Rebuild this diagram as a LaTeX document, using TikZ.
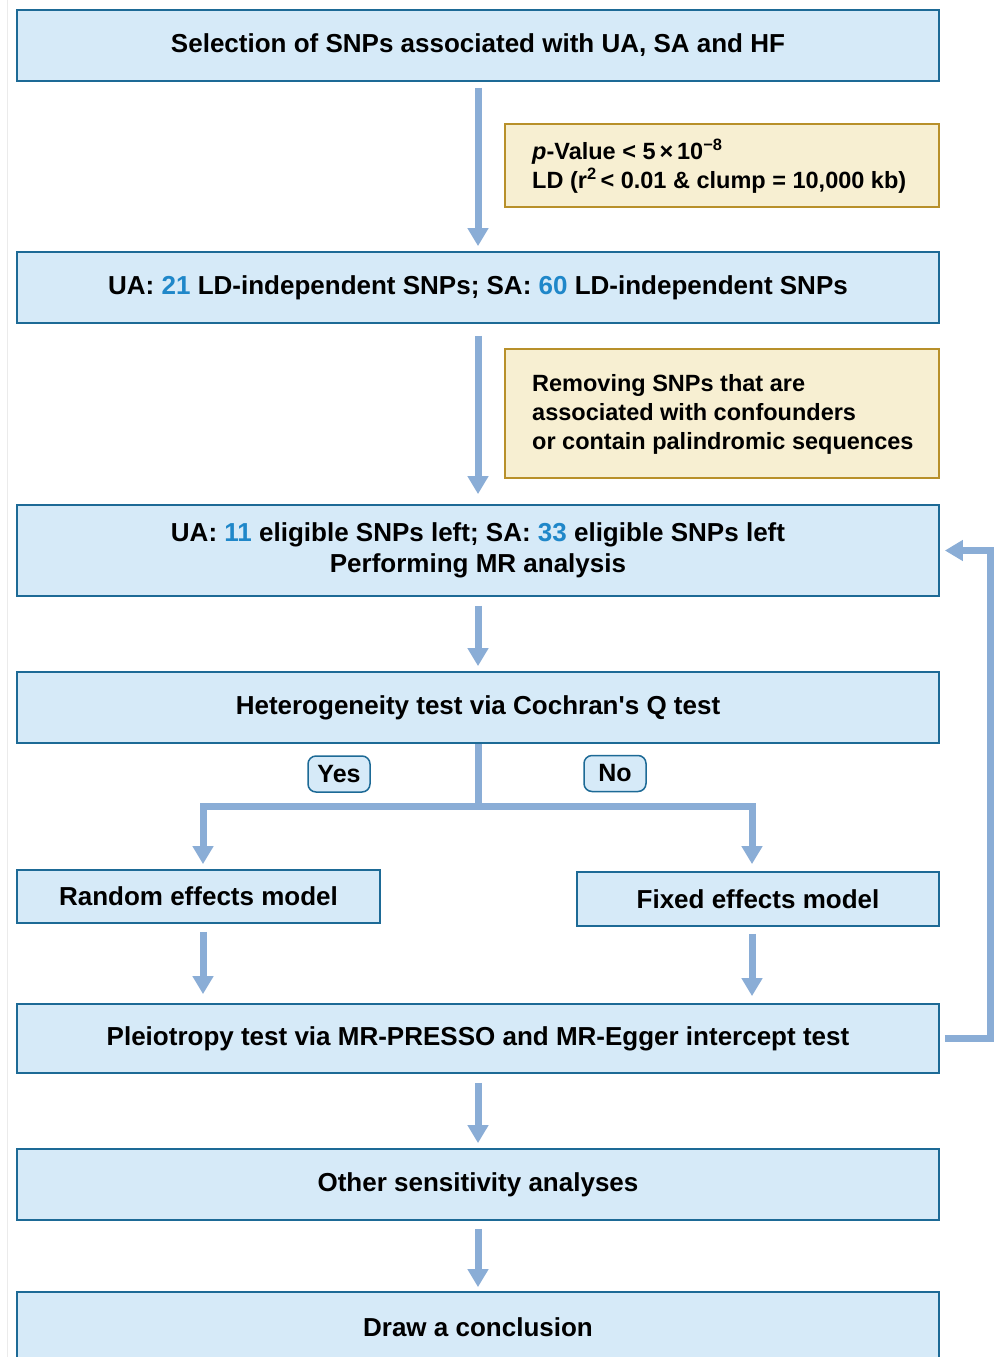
\documentclass[tikz,border=0pt]{standalone}
\usepackage{fontspec}
\setmainfont{Liberation Sans}
\newfontfamily\nomapfont{Liberation Sans}
\usetikzlibrary{arrows.meta}
\definecolor{boxfill}{HTML}{D6EAF8}
\definecolor{boxline}{HTML}{1D6A96}
\definecolor{arrowc}{HTML}{8AADD6}
\definecolor{yfill}{HTML}{F7EFD2}
\definecolor{yline}{HTML}{B8902A}
\definecolor{numc}{HTML}{1F87C9}
\tikzset{
  mainbox/.style={draw=boxline, line width=1.8pt, fill=boxfill, inner sep=0pt,
    minimum width=922pt, align=center, font=\fontsize{26}{31}\selectfont\bfseries},
  notebox/.style={draw=yline, line width=1.8pt, fill=yfill, inner sep=0pt,
    minimum width=434pt},
  notetext/.style={anchor=west, align=left, inner sep=0pt, font=\fontsize{23.5}{29}\selectfont\bfseries},
  tag/.style={draw=boxline, line width=1.5pt, fill=boxfill, rounded corners=8pt,
    minimum width=62pt, minimum height=36pt, inner sep=0pt, font=\fontsize{25}{30}\selectfont\bfseries},
  flow/.style={draw=arrowc, line width=7pt, -{Triangle[length=18pt,width=20pt]}},
  flowline/.style={draw=arrowc, line width=7pt}
}
\begin{document}
\begin{tikzpicture}[x=1pt,y=-1pt]
\useasboundingbox (0,0) rectangle (1003,1357);
\clip (0,0) rectangle (1003,1357);
\fill[white] (0,0) rectangle (1003,1357);
\draw[black!8, line width=1pt] (7,0) -- (7,1357);

\node[mainbox, minimum height=71pt] (top) at (478,45.5) {Selection of SNPs associated with UA, SA and HF};
\node[notebox, minimum height=83pt] (ld) at (722,165.5) {};
\node[notetext] (ldtext) at (532,166)
  {\textit{p}-Value < 5\,×\,10\textsuperscript{−8}\\LD (r\textsuperscript{2}\,< 0.01 \& clump = 10,000 kb)};
\node[mainbox, minimum height=71pt] (b2) at (478,287.5)
  {UA: \textcolor{numc}{21} LD-independent SNPs; SA: \textcolor{numc}{60} LD-independent SNPs};
\node[notebox, minimum height=129pt] (conf) at (722,413.5) {};
\node[notetext] (conftext) at (532,414)
  {Removing SNPs that are\\associated with confounders\\or contain palindromic sequences};
\node[mainbox, minimum height=91pt] (b3) at (478,550.5)
  {UA: \textcolor{numc}{11} eligible SNPs left; SA: \textcolor{numc}{33} eligible SNPs left\\Performing MR analysis};
\node[mainbox, minimum height=71pt] (het) at (478,707.5) {Heterogeneity test via Cochran{\nomapfont\bfseries'}s Q test};
\node[tag] (yes) at (339,774) {Yes};
\node[tag] (no) at (615,773.5) {No};
\node[mainbox, minimum width=363pt, minimum height=53pt] (rand) at (198.5,896.5) {Random effects model};
\node[mainbox, minimum width=362pt, minimum height=54pt] (fixed) at (758,899) {Fixed effects model};
\node[mainbox, minimum height=69pt] (pleio) at (478,1038.5) {Pleiotropy test via MR-PRESSO and MR-Egger intercept test};
\node[mainbox, minimum height=71pt] (other) at (478,1184.5) {Other sensitivity analyses};
\node[mainbox, minimum height=71pt] (concl) at (478,1327.5) {Draw a conclusion};

\coordinate (split) at (478,806);
\draw[flow] ([yshift=-6pt]top.south) -- ([yshift=5pt]b2.north);
\draw[flow] ([yshift=-12pt]b2.south) -- ([yshift=10pt]b3.north);
\draw[flow] ([yshift=-9pt]b3.south) -- ([yshift=5pt]het.north);
\draw[flowline] (het.south) -- (split);
\draw[flow] ([xshift=3.5pt]split) -| ([xshift=4.5pt,yshift=5pt]rand.north);
\draw[flow] ([xshift=-3.5pt]split) -| ([xshift=-6pt,yshift=7pt]fixed.north);
\draw[flow] ([xshift=4.5pt,yshift=-8pt]rand.south) -- ([xshift=-275pt,yshift=9pt]pleio.north);
\draw[flow] ([xshift=-6pt,yshift=-7pt]fixed.south) -- ([xshift=274pt,yshift=7pt]pleio.north);
\draw[flow] ([yshift=-9pt]pleio.south) -- ([yshift=5pt]other.north);
\draw[flow] ([yshift=-8pt]other.south) -- ([yshift=4pt]concl.north);
\draw[flow] ([xshift=5pt]pleio.east) -- ++(46,0) |- ([xshift=5pt]b3.east);
\end{tikzpicture}
\end{document}
